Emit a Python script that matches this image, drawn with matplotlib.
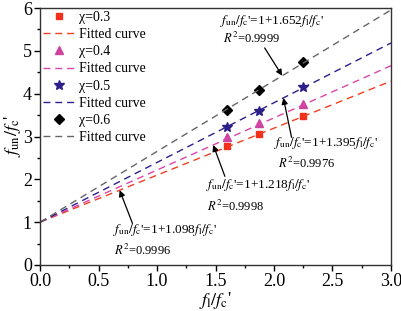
import matplotlib
matplotlib.use("Agg")
import matplotlib.pyplot as plt
import numpy as np

plt.rcParams['font.family'] = ['Liberation Serif', 'DejaVu Serif']
plt.rcParams['mathtext.fontset'] = 'stix'

# Data
chi_labels = ["χ=0.3", "χ=0.4", "χ=0.5", "χ=0.6"]
x_pts = [1.60, 1.875, 2.25]
y_chi03 = [2.77, 3.07, 3.47]
y_chi04 = [2.99, 3.31, 3.76]
y_chi05 = [3.23, 3.60, 4.16]
y_chi06 = [3.63, 4.09, 4.74]
slopes = [1.098, 1.218, 1.395, 1.652]
r2 = ["0.9996", "0.9998", "0.9976", "0.9999"]
x_fit = np.array([0.0, 3.0])

marker_colors = ["#f0301a", "#cc44a0", "#2c1f8a", "#000000"]
line_colors = ["#f04020", "#dd44aa", "#2c1f8a", "#666666"]
markers = ["s", "^", "*", "D"]
msizes = [5, 6, 7, 5]

fig = plt.figure(figsize=(4.01, 3.11), dpi=100)
ax = fig.add_axes([0.1, 0.148, 0.875, 0.826])

ys = [y_chi03, y_chi04, y_chi05, y_chi06]
for i in range(4):
    ax.plot(x_pts, ys[i], linestyle='none', marker=markers[i], color=marker_colors[i],
            markersize=msizes[i], label=chi_labels[i])
    ax.plot(x_fit, 1 + slopes[i] * x_fit, color=line_colors[i], lw=1.0,
            dashes=(5, 3.5), label="Fitted curve")

ax.set_xlim(0, 3.0)
ax.set_ylim(0, 6)
ax.set_xticks(np.arange(0, 3.01, 0.5))
ax.set_xticklabels([f"{v:.1f}" for v in np.arange(0, 3.01, 0.5)])
ax.set_xticks(np.arange(0.25, 3.0, 0.5), minor=True)
ax.set_yticks(range(0, 7))
ax.set_yticks(np.arange(0.5, 6, 1.0), minor=True)
ax.tick_params(axis='both', which='major', direction='out', length=4, width=1, labelsize=13, pad=2)
ax.tick_params(axis='both', which='minor', direction='out', length=2.5, width=1)
for s in ax.spines.values():
    s.set_linewidth(1.0)
    s.set_color("#333333")

ax.set_xlabel(r"$f_{\rm l}/f_{\rm c}$'", fontsize=13)
ax.xaxis.set_label_coords(0.5, -0.097)
ax.set_ylabel(r"$f_{\rm un}/f_{\rm c}$'", fontsize=13)
ax.yaxis.set_label_coords(-0.05, 0.5)

leg = ax.legend(loc='upper left', frameon=False, fontsize=10, handlelength=2.3,
                labelspacing=0.3, borderaxespad=0.0, handletextpad=0.3,
                borderpad=0.2)

fs_eq = 9.5
fs_r2 = 9
def eq(k):
    return r"$f_{\rm un}/f_{\rm c}$'=1+" + f"{k:.3f}" + r"$f_{\rm l}/f_{\rm c}$'"

# (series index, arrow tip x on line, equation position, R2 position, arrow tail)
ann = [
    (3, 2.07, (1.54, 5.70), (1.56, 5.28), (1.92, 5.07)),
    (2, 2.08, (2.00, 2.84), (2.03, 2.38), (2.15, 2.98)),
    (1, 1.48, (1.42, 1.86), (1.43, 1.37), (1.58, 2.07)),
    (0, 0.68, (0.62, 0.82), (0.63, 0.35), (0.79, 0.97)),
]
for idx, x_tip, tpos, rpos, tail in ann:
    y_tip = 1 + slopes[idx] * x_tip
    ax.annotate("", xy=(x_tip, y_tip), xytext=tail,
                arrowprops=dict(arrowstyle='-|>', color='black', lw=0.9,
                                mutation_scale=9, shrinkA=0, shrinkB=0))
    ax.text(tpos[0], tpos[1], eq(slopes[idx]), fontsize=fs_eq, ha='left', va='center')
    ax.text(rpos[0], rpos[1], r"$R^2$=" + r2[idx], fontsize=fs_r2,
            ha='left', va='center')

fig.savefig("out.png", dpi=100)
